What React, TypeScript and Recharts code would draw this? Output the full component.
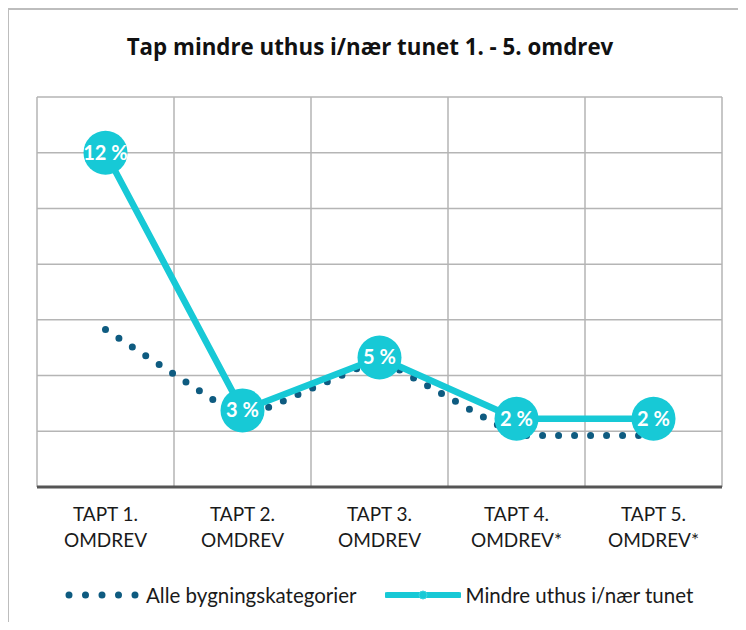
import React from 'react';
import { LineChart, Line, XAxis, YAxis, CartesianGrid } from 'recharts';

const categories = ['TAPT 1.\nOMDREV', 'TAPT 2.\nOMDREV', 'TAPT 3.\nOMDREV', 'TAPT 4.\nOMDREV*', 'TAPT 5.\nOMDREV*'];
const alleValues = [5.65, 2.45, 4.6, 1.85, 1.85];
const uthusValues = [12.0, 2.75, 4.65, 2.45, 2.45];
const yTicks = [0, 2, 4, 6, 8, 10, 12, 14];
const Y_MAX = 14;

const TITLE = 'Tap mindre uthus i/nær tunet 1. - 5. omdrev';
const ALLE_NAME = 'Alle bygningskategorier';
const UTHUS_NAME = 'Mindre uthus i/nær tunet';

const FONT = 'Lato, "Open Sans", sans-serif';
const TITLE_FONT = '"Open Sans", Lato, sans-serif';
const CYAN = '#17C9D6';
const DARK = '#0E5B80';
const GRID = '#b5b5b5';
const FRAME = '#bdbdbd';

const data = categories.map((c, i) => ({ cat: c, alle: alleValues[i], uthus: uthusValues[i] }));

const CatTick = (props: any) => {
  const { x, y, payload } = props;
  const lines = String(payload.value).split('\n');
  return (
    <text x={x} y={y} textAnchor="middle" fontFamily={FONT} fontSize={19} fill="#1a1a1a">
      {lines.map((l, i) => (
        <tspan key={i} x={x} dy={26}>{l}</tspan>
      ))}
    </text>
  );
};

const Bubble = (props: any) => {
  const { cx, cy, value, index } = props;
  if (cx == null || cy == null) return null;
  return (
    <g key={`bubble-${index}`}>
      <circle cx={cx} cy={cy} r={22} fill={CYAN} />
      <text x={cx} y={cy} dy={7} textAnchor="middle" fontFamily={FONT} fontWeight={700} fontSize={20} fill="#fff">
        {`${Math.round(value)} %`}
      </text>
    </g>
  );
};

export default function App() {
  return (
    <div style={{ position: 'relative', width: 746, height: 630, margin: -8, overflow: 'hidden', background: '#fff' }}>
      <div style={{ position: 'absolute', left: 0, top: 31, width: 740, textAlign: 'center', fontFamily: TITLE_FONT, fontWeight: 700, fontSize: 22.3, color: '#111' }}>
        {TITLE}
      </div>
      <div style={{ position: 'absolute', left: 0, top: 0 }}>
        <LineChart width={746} height={630} data={data} margin={{ top: 97, right: 24, left: 37, bottom: 83 }}>
          <CartesianGrid
            stroke={GRID}
            strokeWidth={1.5}
            horizontalCoordinatesGenerator={({ offset }: any) =>
              yTicks.map((t) => offset.top + offset.height * (1 - t / Y_MAX))
            }
            verticalCoordinatesGenerator={({ offset }: any) =>
              categories.map((_, i) => offset.left + (i * offset.width) / categories.length).concat(offset.left + offset.width)
            }
          />
          <XAxis
            dataKey="cat"
            interval={0}
            padding={{ left: 68.5, right: 68.5 }}
            axisLine={{ stroke: '#555', strokeWidth: 3 }}
            tickLine={false}
            height={60}
            tick={<CatTick />}
          />
          <YAxis domain={[0, Y_MAX]} ticks={yTicks} width={0} tick={false} axisLine={false} tickLine={false} />
          <Line
            dataKey="alle"
            name={ALLE_NAME}
            stroke={DARK}
            strokeWidth={7}
            strokeDasharray="0 16"
            strokeLinecap="round"
            dot={false}
            isAnimationActive={false}
          />
          <Line
            dataKey="uthus"
            name={UTHUS_NAME}
            stroke={CYAN}
            strokeWidth={6.5}
            dot={Bubble}
            activeDot={false}
            isAnimationActive={false}
          />
        </LineChart>
      </div>
      <div style={{ position: 'absolute', left: 0, top: 583, width: 746, display: 'flex', alignItems: 'center', fontFamily: FONT, fontSize: 20.5, color: '#1a1a1a' }}>
        <svg width={80} height={24} style={{ marginLeft: 62 }}>
          <line x1={7} y1={12} x2={76} y2={12} stroke={DARK} strokeWidth={7} strokeDasharray="0 16.5" strokeLinecap="round" />
        </svg>
        <span style={{ marginLeft: 4 }}>{ALLE_NAME}</span>
        <svg width={76} height={24} style={{ marginLeft: 28 }}>
          <line x1={2} y1={12} x2={74} y2={12} stroke={CYAN} strokeWidth={6} strokeLinecap="round" />
          <circle cx={38} cy={12} r={4} fill={CYAN} stroke="#3fd3de" strokeWidth={1} />
        </svg>
        <span style={{ marginLeft: 5 }}>{UTHUS_NAME}</span>
      </div>
      <div style={{ position: 'absolute', left: 6, top: 8, width: 740, height: 2, background: FRAME }} />
      <div style={{ position: 'absolute', left: 6, top: 8, width: 3, height: 622, background: FRAME, zIndex: 5 }} />
    </div>
  );
}
